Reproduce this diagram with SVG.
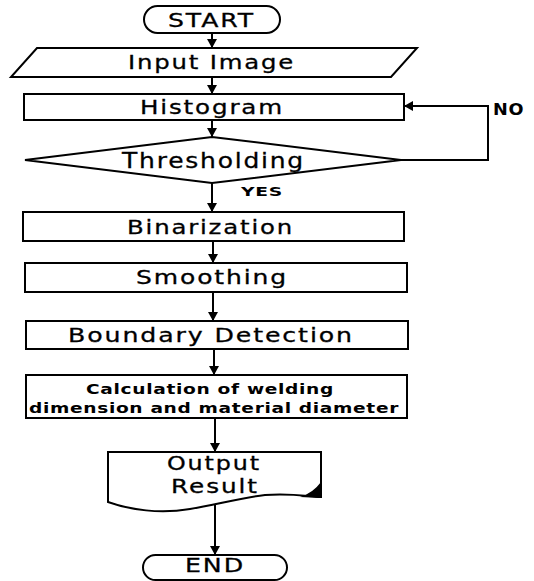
<svg xmlns="http://www.w3.org/2000/svg" width="534" height="581" viewBox="0 0 534 581">
  <style>
    .shape { fill: #ffffff; stroke: #000000; stroke-width: 2; stroke-linejoin: miter; }
    .link { fill: none; stroke: #000000; stroke-width: 2; }
    .label { font-family: "DejaVu Sans", "Liberation Sans", sans-serif; font-size: 20px; letter-spacing: 1.5px; fill: #000000; stroke: #000000; stroke-width: 0.3px; text-anchor: middle; }
    .big { font-size: 21px; }
    .doc { font-size: 19px; }
    .bold { font-family: "DejaVu Sans", "Liberation Sans", sans-serif; font-weight: bold; letter-spacing: 0.5px; fill: #000000; }
  </style>
  <defs>
    <marker id="arrow" viewBox="0 0 9 10" refX="9" refY="5" markerWidth="9" markerHeight="10" markerUnits="userSpaceOnUse" orient="auto">
      <path d="M0,0 L9,5 L0,10 Z" fill="#000000"/>
    </marker>
  </defs>
  <rect width="534" height="581" fill="#ffffff"/>

  <!-- connectors -->
  <g id="connectors">
    <line class="link" x1="212" y1="33" x2="212" y2="48" marker-end="url(#arrow)"/>
    <line class="link" x1="212" y1="77" x2="212" y2="94" marker-end="url(#arrow)"/>
    <line class="link" x1="212" y1="120" x2="212" y2="137" marker-end="url(#arrow)"/>
    <line class="link" x1="212" y1="183" x2="212" y2="212" marker-end="url(#arrow)"/>
    <line class="link" x1="213" y1="241" x2="213" y2="263" marker-end="url(#arrow)"/>
    <line class="link" x1="213" y1="292" x2="213" y2="321" marker-end="url(#arrow)"/>
    <line class="link" x1="214" y1="349" x2="214" y2="375" marker-end="url(#arrow)"/>
    <line class="link" x1="215" y1="418" x2="215" y2="452" marker-end="url(#arrow)"/>
    <line class="link" x1="215" y1="504" x2="215" y2="555" marker-end="url(#arrow)"/>
    <!-- NO branch back to Histogram -->
    <polyline class="link" points="401,160 488,160 488,106 404,106" marker-end="url(#arrow)"/>
    <text class="bold" x="241" y="196" font-size="13" textLength="42" lengthAdjust="spacingAndGlyphs">YES</text>
    <text class="bold" x="493" y="115" font-size="15" textLength="31" lengthAdjust="spacingAndGlyphs">NO</text>
  </g>

  <g id="start">
    <rect class="shape" x="144" y="6" width="136" height="27" rx="13.5" ry="13.5"/>
    <text class="label" x="211.5" y="27" textLength="87" lengthAdjust="spacingAndGlyphs">START</text>
  </g>

  <g id="input-image">
    <polygon class="shape" points="37,48 417,48 391,77 11,77"/>
    <text class="label" x="211.5" y="69" textLength="167" lengthAdjust="spacingAndGlyphs">Input Image</text>
  </g>

  <g id="histogram">
    <rect class="shape" x="24" y="94" width="380" height="26"/>
    <text class="label" x="212" y="114" textLength="144" lengthAdjust="spacingAndGlyphs">Histogram</text>
  </g>

  <g id="thresholding">
    <polygon class="shape" points="212,137 401,160 212,183 25,160"/>
    <text class="label big" x="213.5" y="168" textLength="183" lengthAdjust="spacingAndGlyphs">Thresholding</text>
  </g>

  <g id="binarization">
    <rect class="shape" x="23" y="212" width="381" height="29"/>
    <text class="label" x="210.5" y="234" textLength="167" lengthAdjust="spacingAndGlyphs">Binarization</text>
  </g>

  <g id="smoothing">
    <rect class="shape" x="25" y="263" width="382" height="29"/>
    <text class="label" x="212" y="284" textLength="152" lengthAdjust="spacingAndGlyphs">Smoothing</text>
  </g>

  <g id="boundary-detection">
    <rect class="shape" x="26" y="321" width="382" height="28"/>
    <text class="label" x="211" y="342" textLength="286" lengthAdjust="spacingAndGlyphs">Boundary Detection</text>
  </g>

  <g id="calculation">
    <rect class="shape" x="26" y="375" width="381" height="43"/>
    <text class="bold" x="210" y="394" font-size="14" text-anchor="middle" textLength="248" lengthAdjust="spacingAndGlyphs">Calculation of welding</text>
    <text class="bold" x="214" y="413" font-size="14" text-anchor="middle" textLength="370" lengthAdjust="spacingAndGlyphs">dimension and material diameter</text>
  </g>

  <g id="output-result">
    <path class="shape" d="M108,452 L321,452 L321,497 C305,496 290,493 265,495 C240,498 215,505 190,509 C160,514 130,510 108,502 Z"/>
    <path d="M300,497 Q313,493 321,482 L321,498 Z" fill="#000000"/>
    <text class="label doc" x="214" y="470" textLength="94" lengthAdjust="spacingAndGlyphs">Output</text>
    <text class="label doc" x="215" y="493" textLength="88" lengthAdjust="spacingAndGlyphs">Result</text>
  </g>

  <g id="end">
    <rect class="shape" x="143" y="555" width="144" height="25" rx="12.5" ry="12.5"/>
    <text class="label" x="215" y="572" textLength="60" lengthAdjust="spacingAndGlyphs">END</text>
  </g>
</svg>
